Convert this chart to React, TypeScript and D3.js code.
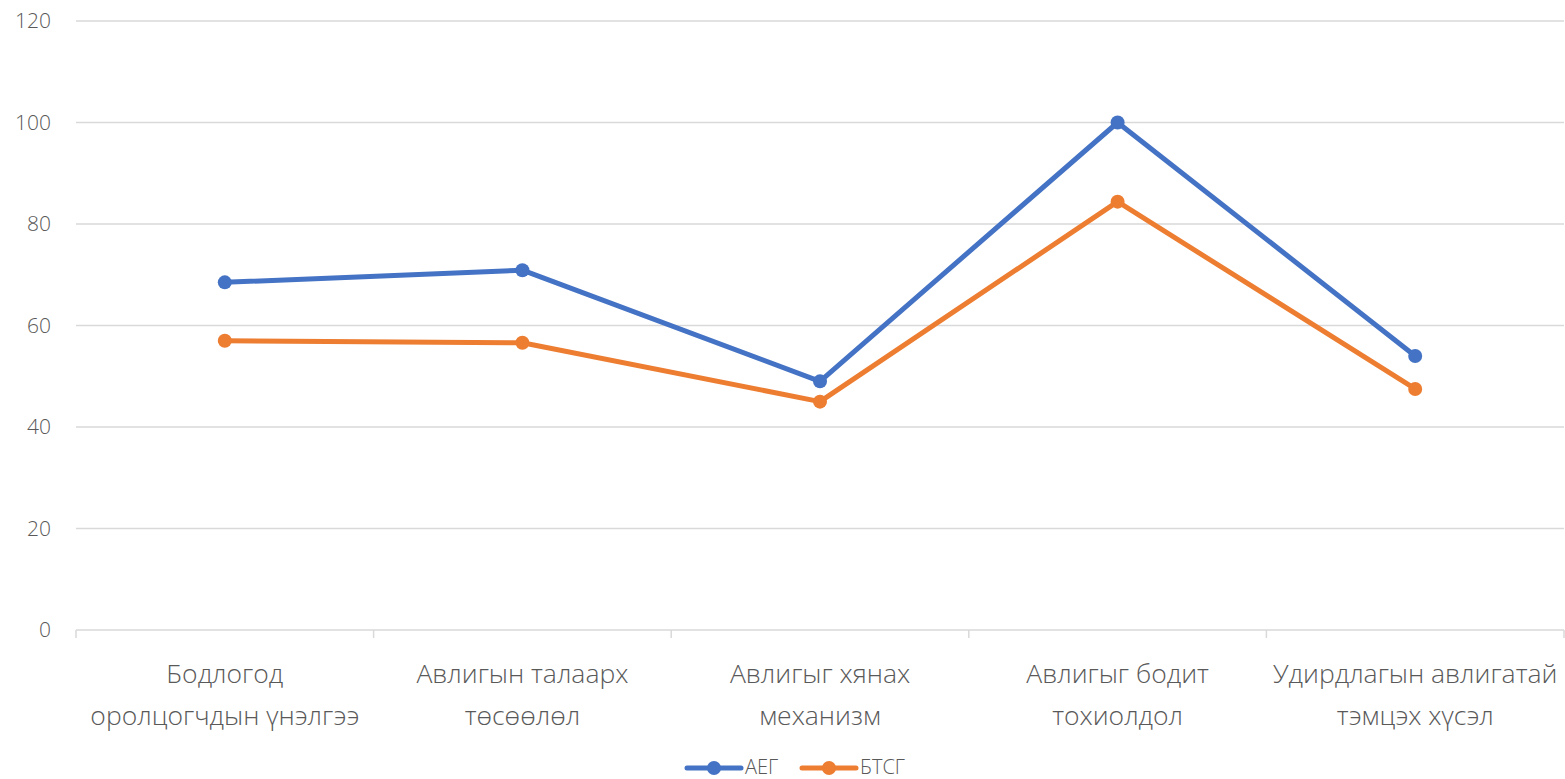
import React from "react";
import * as d3 from "d3";

const categories: string[][] = [
  ["Бодлогод", "оролцогчдын үнэлгээ"],
  ["Авлигын талаарх", "төсөөлөл"],
  ["Авлигыг хянах", "механизм"],
  ["Авлигыг бодит", "тохиолдол"],
  ["Удирдлагын авлигатай", "тэмцэх хүсэл"],
];
const seriesNames = ["АЕГ", "БТСГ"];
const seriesColors = ["#4472C4", "#ED7D31"];
const aegValues = [68.5, 70.9, 49, 100, 54];
const btsgValues = [57, 56.6, 45, 84.4, 47.5];
const yTicks = [0, 20, 40, 60, 80, 100, 120];

const W = 1565;
const H = 779;
const FONT = "'Open Sans', 'Segoe UI', sans-serif";
const TEXT = "#595959";

export default function App() {
  const x0 = 76, x1 = 1564;
  const y = d3.scaleLinear().domain([0, 120]).range([630, 21]);
  const band = d3.scaleBand<number>().domain(d3.range(categories.length)).range([x0, x1]);
  const cx = (i: number) => (band(i) as number) + band.bandwidth() / 2;
  const line = d3.line<number>().x((_, i) => cx(i)).y((d) => y(d));
  const series = [aegValues, btsgValues];
  const boundaries = d3.range(categories.length + 1).map((i) => x0 + i * band.bandwidth());

  return (
    <svg width={W} height={H} style={{ position: "absolute", left: 0, top: 0 }}>
      <rect width={W} height={H} fill="#fff" />
      {yTicks.map((t) => (
        <g key={t}>
          <line x1={x0} x2={x1} y1={y(t)} y2={y(t)} stroke="#D9D9D9" strokeWidth={1.5} />
          <text x={51} y={y(t)} dy="0.35em" textAnchor="end" fontFamily={FONT} fontWeight={300} fontSize={21} fill={TEXT}>
            {t}
          </text>
        </g>
      ))}
      {boundaries.map((b, i) => (
        <line key={i} x1={b} x2={b} y1={630} y2={638} stroke="#D9D9D9" strokeWidth={1.5} />
      ))}
      {categories.map((lines, i) => (
        <text key={i} x={cx(i)} textAnchor="middle" fontFamily={FONT} fontWeight={300} fontSize={26.5} fill={TEXT}>
          {lines.map((l, j) => (
            <tspan key={j} x={cx(i)} y={683 + j * 42}>
              {l}
            </tspan>
          ))}
        </text>
      ))}
      {series.map((vals, s) => (
        <g key={s}>
          <path d={line(vals) || ""} fill="none" stroke={seriesColors[s]} strokeWidth={5} strokeLinejoin="round" strokeLinecap="round" />
          {vals.map((v, i) => (
            <circle key={i} cx={cx(i)} cy={y(v)} r={7} fill={seriesColors[s]} />
          ))}
        </g>
      ))}
      {seriesNames.map((n, s) => {
        const lx = 687 + s * 115;
        return (
          <g key={n}>
            <line x1={lx} x2={lx + 54} y1={768} y2={768} stroke={seriesColors[s]} strokeWidth={5} strokeLinecap="round" />
            <circle cx={lx + 27} cy={768} r={7} fill={seriesColors[s]} />
            <text x={lx + 58} y={768} dy="0.32em" fontFamily={FONT} fontWeight={300} fontSize={20} fill={TEXT}>
              {n}
            </text>
          </g>
        );
      })}
    </svg>
  );
}
